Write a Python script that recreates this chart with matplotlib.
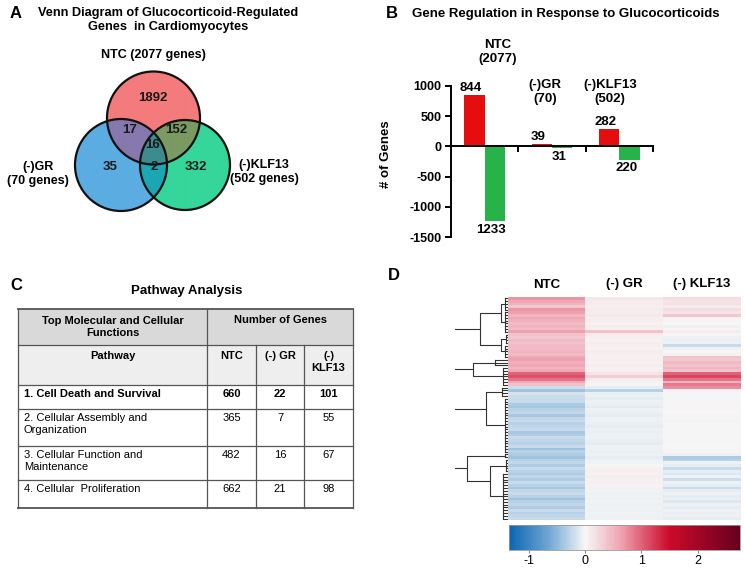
import numpy as np
import matplotlib
matplotlib.use("Agg")
import matplotlib.pyplot as plt
from matplotlib.cm import ScalarMappable
from matplotlib.colors import LinearSegmentedColormap, Normalize, to_rgba
from matplotlib.patches import Circle, Rectangle

plt.rcParams["font.family"] = ["Liberation Sans", "DejaVu Sans"]
plt.rcParams["axes.unicode_minus"] = False

W, H = 745, 568

# panel A: venn counts
venn_sets = ["NTC (2077 genes)", "(-)GR\n(70 genes)", "(-)KLF13\n(502 genes)"]
venn_regions = ["NTC", "GR", "KLF13", "NTC+GR", "NTC+KLF13", "GR+KLF13", "all"]
venn_counts = [1892, 35, 332, 17, 152, 2, 16]

# panel B: up / down regulated genes
groups = ["NTC\n(2077)", "(-)GR\n(70)", "(-)KLF13\n(502)"]
up_genes = [844, 39, 282]
down_genes = [-1233, -31, -220]

# panel C: pathway table
pathways = [
    "1. Cell Death and Survival",
    "2. Cellular Assembly and\nOrganization",
    "3. Cellular Function and\nMaintenance",
    "4. Cellular  Proliferation",
]
ntc_counts = [660, 365, 482, 662]
gr_counts = [22, 7, 16, 21]
klf_counts = [101, 55, 67, 98]
table_columns = ["Pathway", "NTC", "(-) GR", "(-)\nKLF13"]

# panel D: heatmap (rows top to bottom)
heat_columns = ["NTC", "(-) GR", "(-) KLF13"]
ntc_z = [
    0.7, 0.6, 0.5, 0.35, 0.7, 0.65, 0.5, 0.6, 0.55, 0.45,
    0.5, 0.45, 0.65, 0.4, 0.35, 0.45, 0.4, 0.45, 0.45, 0.5,
    0.45, 0.6, 0.65, 0.55, 0.6, 0.5, 0.6, 1.0, 1.1, 0.9,
    0.6, 0.4, -0.2, -0.4, -0.15, -0.2, -0.22, -0.22, -0.35, -0.38,
    -0.3, -0.26, -0.38, -0.26, -0.22, -0.3, -0.26, -0.22, -0.38, -0.34,
    -0.22, -0.26, -0.3, -0.22, -0.42, -0.3, -0.34, -0.42, -0.3, -0.26,
    -0.34, -0.22, -0.3, -0.34, -0.26, -0.34, -0.22, -0.3, -0.38, -0.26,
    -0.22, -0.3, -0.42, -0.3, -0.26, -0.34, -0.22, -0.3, -0.26, -0.22,
]
gr_z = [
    0.12, 0.08, 0.1, 0.06, 0.1, 0.08, 0.12, 0.06, 0.08, 0.04,
    0.08, 0.06, 0.4, 0.08, 0.06, 0.04, 0.08, 0.06, 0.04, 0.08,
    0.06, 0.04, 0.06, 0.04, 0.08, 0.04, 0.06, 0.15, 0.3, 0.08,
    0.04, 0.02, -0.08, -0.3, -0.06, -0.04, -0.08, -0.05, -0.06, -0.1,
    -0.04, -0.06, -0.08, -0.04, -0.05, -0.06, -0.08, -0.04, -0.06, -0.05,
    -0.04, -0.06, -0.08, -0.05, -0.04, -0.06, -0.05, -0.08, -0.04, -0.03,
    -0.02, 0.05, 0.07, 0.04, 0.08, 0.05, 0.07, 0.04, 0.06, -0.03,
    -0.04, -0.03, -0.05, -0.03, -0.04, -0.03, -0.04, -0.03, -0.05, -0.04,
]
klf_z = [
    0.2, 0.15, 0.18, 0.1, 0.2, 0.15, 0.35, 0.04, 0.02, 0.0,
    -0.04, 0.02, 0.08, 0.02, -0.04, -0.06, -0.04, -0.22, -0.04, 0.02,
    0.04, 0.4, 0.35, 0.45, 0.4, 0.5, 0.4, 1.0, 1.15, 0.9,
    0.5, 0.85, 0.75, 0.04, 0.02, 0.0, -0.02, 0.02, 0.02, -0.02,
    0.02, 0.0, -0.02, 0.02, 0.03, -0.02, 0.0, 0.02, -0.02, 0.02,
    0.0, -0.02, 0.02, 0.0, -0.02, 0.02, -0.04, -0.35, -0.3, -0.04,
    -0.08, -0.22, -0.08, -0.12, -0.04, -0.2, -0.04, -0.08, -0.22, -0.08,
    -0.04, -0.08, -0.06, -0.12, -0.04, -0.08, -0.04, -0.06, -0.04, -0.08,
]
# row clustering: [height, top, bottom]; leaf groups are (first_row, end_row, height)
dendro = [80,
          [60,
           [27, [7, (0, 5, 3), (5, 13, 3)], [7, (13, 17, 2), (17, 22, 3)]],
           [34, (22, 25, 13), (25, 32, 5)]],
          [70,
           [22, (32, 36, 6), (36, 56, 3)],
           [40, (56, 58, 3), [18, (58, 63, 2), (63, 80, 5)]]]]

RED = "#e50d0d"
GREEN = "#27b34a"
LINE = "#555555"


def px_axes(x0, y0, x1, y1):
    return fig.add_axes([x0 / W, 1 - y1 / H, (x1 - x0) / W, (y1 - y0) / H])


def draw_tree(axis, node):
    style = dict(color="#333333", linewidth=0.8)
    if isinstance(node, tuple):
        start, end, h = node
        rows = np.arange(start, end) + 0.5
        for r in rows:
            axis.plot([h, 0], [r, r], **style)
        axis.plot([h, h], [rows[0], rows[-1]], **style)
        return rows.mean(), h
    h, top, bottom = node
    y1, h1 = draw_tree(axis, top)
    y2, h2 = draw_tree(axis, bottom)
    axis.plot([h1, h, h, h2], [y1, y1, y2, y2], **style)
    return (y1 + y2) / 2, h


fig = plt.figure(figsize=(W / 100, H / 100), dpi=100)
bg = fig.add_axes([0, 0, 1, 1])
bg.set_xlim(0, W)
bg.set_ylim(H, 0)
bg.axis("off")

# panel letters and titles
for letter, (x, y) in zip("ABCD", [(10, 14), (386, 14), (10, 285), (388, 276)]):
    bg.text(x, y, letter, fontsize=12, fontweight="bold", ha="left", va="center")
bg.text(168, 20, "Venn Diagram of Glucocorticoid-Regulated\nGenes  in Cardiomyocytes",
        fontsize=9.2, fontweight="bold", ha="center", va="center", linespacing=1.15)
bg.text(566, 14, "Gene Regulation in Response to Glucocorticoids",
        fontsize=9.5, fontweight="bold", ha="center", va="center")
bg.text(187, 291, "Pathway Analysis", fontsize=9.5, fontweight="bold", ha="center", va="center")

# ---- A: venn
circles = [(153.5, 118, 46.5), (121, 165, 46), (185, 165, 45)]
region_colors = ["#f47b7d", "#5bade2", "#36d69b", "#8679ae", "#7a9a62", "#1ca7b5", "#3d8b8f"]
gx = np.linspace(70, 236, 660)
gy = np.linspace(66, 216, 600)
X, Y = np.meshgrid(gx, gy)
inside = [(X - cx) ** 2 + (Y - cy) ** 2 <= r ** 2 for cx, cy, r in circles]
n, g, k = inside
masks = [n & ~g & ~k, g & ~n & ~k, k & ~n & ~g, n & g & ~k, n & k & ~g, g & k & ~n, n & g & k]
img = np.zeros(X.shape + (4,))
for mask, color in zip(masks, region_colors):
    img[mask] = to_rgba(color)
bg.imshow(img, extent=(70, 236, 216, 66), interpolation="bilinear", aspect="auto")
for cx, cy, r in circles:
    bg.add_patch(Circle((cx, cy), r, fill=False, edgecolor="#111111", linewidth=1.6))
bg.set_xlim(0, W)
bg.set_ylim(H, 0)
region_xy = [(153, 98), (110, 167), (196, 167), (130, 130), (176, 130), (154, 167), (152, 145)]
for (x, y), count in zip(region_xy, venn_counts):
    bg.text(x, y, str(count), fontsize=9.5, fontweight="bold", ha="center", va="center", color="#1a1a1a")
for (x, y), label in zip([(153, 55), (38, 174), (264, 172)], venn_sets):
    bg.text(x, y, label, fontsize=9, fontweight="bold", ha="center", va="center", linespacing=1.15)

# ---- B: bars
axb = px_axes(451, 86, 653, 237)
pos = np.arange(len(groups))
axb.bar(pos - 0.15, up_genes, 0.3, color=RED)
axb.bar(pos + 0.15, down_genes, 0.3, color=GREEN)
for x, v in zip(pos - 0.2, up_genes):
    axb.annotate(str(v), (x, v), xytext=(0, 1), textcoords="offset points",
                 ha="center", va="bottom", fontsize=9.5, fontweight="bold")
for x, v in zip(pos + 0.1, down_genes):
    axb.annotate(str(abs(v)), (x, v), xytext=(0, -2), textcoords="offset points",
                 ha="center", va="top", fontsize=9.5, fontweight="bold")
axb.set_xlim(-0.5, 2.5)
axb.set_ylim(-1500, 1000)
axb.set_yticks([-1500, -1000, -500, 0, 500, 1000])
axb.set_xticks([0.5, 1.5, 2.5], labels=["", "", ""])
axb.spines["top"].set_visible(False)
axb.spines["right"].set_visible(False)
axb.spines["bottom"].set_position(("data", 0))
axb.spines["left"].set_linewidth(1.4)
axb.spines["bottom"].set_linewidth(1.4)
axb.tick_params(axis="both", direction="out", length=4, width=1.4)
axb.tick_params(axis="y", labelsize=9, pad=3)
for t in axb.get_yticklabels():
    t.set_fontweight("bold")
axb.set_ylabel("# of Genes", fontsize=9.5, fontweight="bold")
axb.yaxis.set_label_coords(-0.29, 0.55)
axb.patch.set_alpha(0)
for (x, y), label in zip([(498, 52), (545, 92), (610, 92)], groups):
    bg.text(x, y, label, fontsize=9.5, fontweight="bold", ha="center", va="center", linespacing=1.15)

# ---- C: table
col_x = [18, 207, 256, 304, 353]
row_y = [309, 345, 385, 409, 446, 480, 508]
bg.add_patch(Rectangle((col_x[0], row_y[0]), col_x[-1] - col_x[0], row_y[1] - row_y[0],
                       facecolor="#d9d9d9", edgecolor="none"))
bg.add_patch(Rectangle((col_x[0], row_y[1]), col_x[-1] - col_x[0], row_y[2] - row_y[1],
                       facecolor="#eeeeee", edgecolor="none"))
for i, y in enumerate(row_y):
    lw = 1.3 if i in (0, len(row_y) - 1) else 0.9
    bg.plot([col_x[0], col_x[-1]], [y, y], color=LINE, linewidth=lw)
for x in (col_x[0], col_x[1], col_x[-1]):
    bg.plot([x, x], [row_y[0], row_y[-1]], color=LINE, linewidth=0.9)
for x in col_x[2:4]:
    bg.plot([x, x], [row_y[1], row_y[-1]], color=LINE, linewidth=0.9)
col_center = [(a + b) / 2 for a, b in zip(col_x[:-1], col_x[1:])]
bg.text(col_center[0], 327, "Top Molecular and Cellular\nFunctions", fontsize=8, fontweight="bold",
        ha="center", va="center")
bg.text((col_x[1] + col_x[-1]) / 2, 320, "Number of Genes", fontsize=8, fontweight="bold",
        ha="center", va="center")
for x, label in zip(col_center, table_columns):
    bg.text(x, 351, label, fontsize=8, fontweight="bold", ha="center", va="top")
for i, name in enumerate(pathways):
    weight = "bold" if i == 0 else "normal"
    top = row_y[i + 2] + 4
    bg.text(24, top, name, fontsize=8, fontweight=weight, ha="left", va="top")
    for x, v in zip(col_center[1:], [ntc_counts[i], gr_counts[i], klf_counts[i]]):
        bg.text(x, top, str(v), fontsize=8, fontweight=weight, ha="center", va="top")

# ---- D: heatmap
cmap = LinearSegmentedColormap.from_list(
    "heat", [(0, "#0a66b2"), (0.171, "#6fa6d3"), (0.329, "#f7f7f7"), (0.476, "#f0a8b6"),
             (0.695, "#cc0a2a"), (1, "#67001f")])
norm = Normalize(-1.35, 2.75)
data = np.array([ntc_z, gr_z, klf_z]).T
axd = px_axes(508, 297, 741, 520)
axd.imshow(data, cmap=cmap, norm=norm, aspect="auto", interpolation="nearest",
           extent=(0, 3, len(ntc_z), 0))
axd.set_axis_off()
for i, label in enumerate(heat_columns):
    axd.annotate(label, (i + 0.5, 0), xytext=(0, 9), textcoords="offset points",
                 ha="center", va="center", fontsize=9.5, fontweight="bold")

axt = px_axes(455, 297, 508, 520)
draw_tree(axt, dendro)
axt.set_xlim(52, 0)
axt.set_ylim(len(ntc_z), 0)
axt.set_axis_off()

axc = px_axes(509, 525, 740, 550)
cb = fig.colorbar(ScalarMappable(norm=norm, cmap=cmap), cax=axc, orientation="horizontal")
cb.set_ticks([-1, 0, 1, 2])
cb.ax.tick_params(labelsize=9, length=2.5, color="#888888", pad=1)
cb.outline.set_edgecolor("#999999")
cb.outline.set_linewidth(0.6)

fig.savefig("out.png", dpi=100)
